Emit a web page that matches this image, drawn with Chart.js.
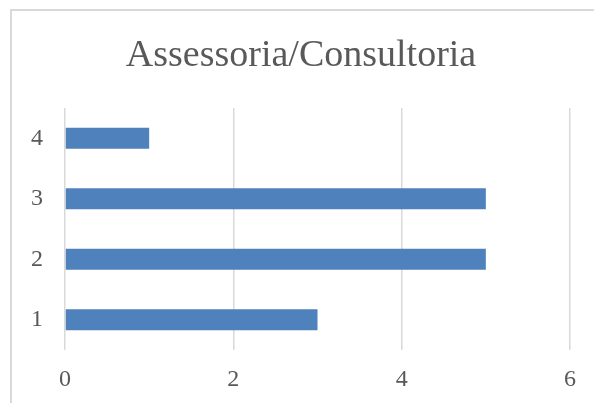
<!DOCTYPE html>
<html>
<head>
<meta charset="utf-8">
<script src="https://cdn.jsdelivr.net/npm/chart.js@4"></script>
<style>
html,body{margin:0;padding:0;background:#fff;overflow:hidden;}
#frame{position:absolute;left:10px;top:9px;width:700px;height:500px;border:2px solid #d9d9d9;}
#wrap{position:absolute;left:0;top:0;width:594px;height:403px;}
</style>
</head>
<body>
<div id="frame"></div>
<div id="wrap"><canvas id="c" width="594" height="403"></canvas></div>
<script>
const categories = ['1', '2', '3', '4'];
const values = [3, 5, 5, 1];
const xTicks = [0, 2, 4, 6];
const titleText = 'Assessoria/Consultoria';

const FONT = "'Liberation Serif', 'DejaVu Serif', serif";
const TEXT = '#595959';

const titlePlugin = {
  id: 'customTitle',
  afterDraw(chart) {
    const ctx = chart.ctx;
    ctx.save();
    ctx.font = "38px " + FONT;
    ctx.fillStyle = TEXT;
    ctx.textAlign = 'center';
    ctx.textBaseline = 'alphabetic';
    ctx.fillText(titleText, 301, 66);
    ctx.restore();
  }
};

new Chart(document.getElementById('c'), {
  type: 'bar',
  data: {
    labels: categories,
    datasets: [{
      data: values,
      backgroundColor: '#4f81bd',
      borderWidth: 0,
      categoryPercentage: 1,
      barPercentage: 0.35
    }]
  },
  plugins: [titlePlugin],
  options: {
    indexAxis: 'y',
    responsive: false,
    animation: false,
    devicePixelRatio: 1,
    layout: { padding: { left: 0, right: 24, top: 108, bottom: 0 } },
    plugins: {
      legend: { display: false },
      tooltip: { enabled: false },
      title: { display: false }
    },
    scales: {
      x: {
        min: xTicks[0],
        max: xTicks[xTicks.length - 1],
        afterBuildTicks: (s) => { s.ticks = xTicks.map(v => ({ value: v })); },
        afterFit: (s) => { s.height = 53; },
        grid: { color: '#d9d9d9', lineWidth: 1.5, drawTicks: false },
        border: { display: false },
        ticks: { color: TEXT, font: { family: FONT, size: 24 }, padding: 15 }
      },
      y: {
        reverse: true,
        afterFit: (s) => { s.width = 65; },
        grid: { display: false, drawTicks: false },
        border: { display: false },
        ticks: { color: TEXT, font: { family: FONT, size: 24 }, padding: 22 }
      }
    }
  }
});
</script>
</body>
</html>
